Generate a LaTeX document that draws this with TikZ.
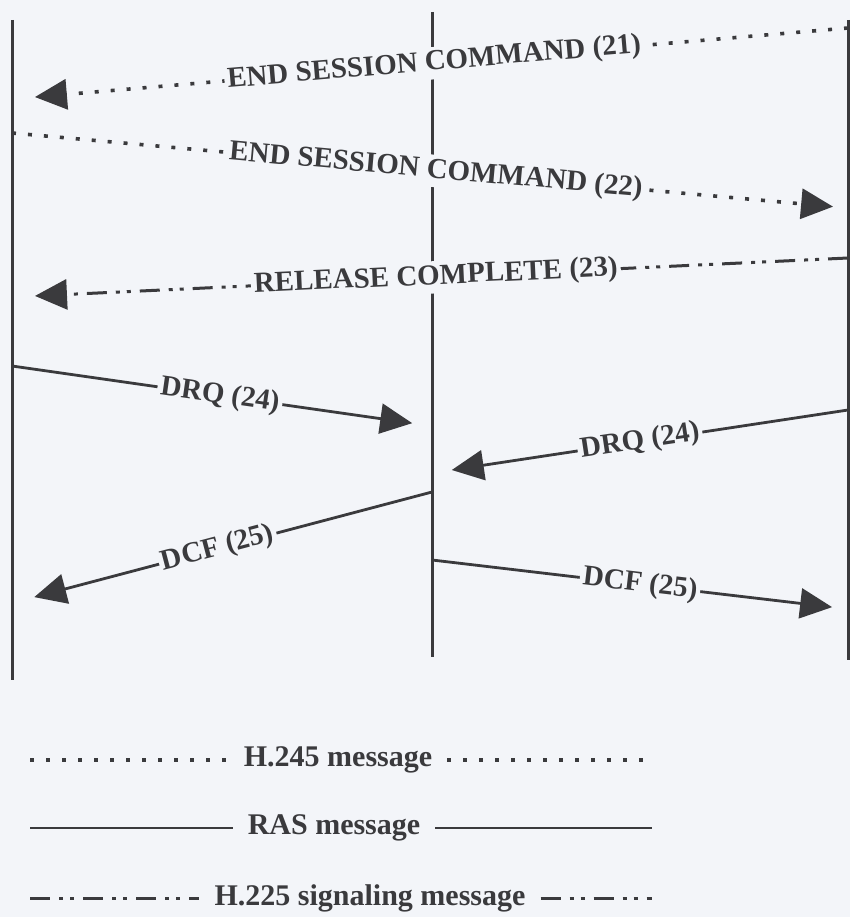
\documentclass[tikz,border=0pt]{standalone}
\usepackage{fontspec}
\setmainfont{Liberation Serif}
\usetikzlibrary{arrows.meta}
\definecolor{SeqInk}{HTML}{3A3A3D}
\definecolor{SeqPaper}{HTML}{F3F5F9}

\begin{document}
\begin{tikzpicture}[
    x=1pt,y=-1pt,
    life/.style={SeqInk,line width=3pt},
    rasline/.style={SeqInk,line width=2.8pt},
    callline/.style={SeqInk,line width=3.6pt,dash pattern=on 4pt off 12pt},
    sigline/.style={SeqInk,line width=3pt,dash pattern=on 20pt off 9pt on 4pt off 7pt on 4pt off 9pt},
    tip/.style={-{Triangle[length=32pt,width=30pt]}},
    lbl/.style={fill=SeqPaper,text=SeqInk,inner sep=3pt,sloped,font=\fontsize{29}{32}\selectfont\bfseries},
    key/.style={text=SeqInk,inner ysep=2pt,inner xsep=15pt,font=\fontsize{30}{33}\selectfont\bfseries}
  ]
    \fill[SeqPaper] (0,0) rectangle (850,917);
    \useasboundingbox (0,0) rectangle (850,917);

    % lifelines
    \coordinate (ltop) at (12,20);  \coordinate (lbot) at (12,680);
    \coordinate (mtop) at (432,12); \coordinate (mbot) at (432,657);
    \coordinate (rtop) at (848,20); \coordinate (rbot) at (848,660);
    \draw[life] (ltop) -- (lbot);
    \draw[life] (mtop) -- (mbot);
    \draw[life] (rtop) -- (rbot);

    % message ends
    \coordinate (m21a) at (848,28);  \coordinate (m21b) at (12,99);
    \coordinate (m22a) at (12,133);  \coordinate (m22b) at (848,208);
    \coordinate (m23a) at (848,258); \coordinate (m23b) at (12,297);
    \coordinate (m24a) at (12,366);  \coordinate (m24b) at (432,426);
    \coordinate (m24c) at (848,410); \coordinate (m24d) at (432,473);
    \coordinate (m25a) at (432,492); \coordinate (m25b) at (12,603);
    \coordinate (m25c) at (432,560); \coordinate (m25d) at (848,609);

    \draw[callline,tip,shorten >=23pt] (m21a) -- node[lbl,pos=0.495] (t21) {END SESSION COMMAND (21)} (m21b);
    \draw[callline,tip,shorten >=15pt] (m22a) -- node[lbl,pos=0.507] (t22) {END SESSION COMMAND (22)} (m22b);
    \draw[sigline,tip,shorten >=23pt] (m23a) -- node[lbl,pos=0.493] (t23) {RELEASE COMPLETE (23)} (m23b);
    \draw[rasline,tip,shorten >=20pt] (m24a) -- node[lbl,pos=0.495] (t24a) {DRQ (24)} (m24b);
    \draw[rasline,tip,shorten >=20pt] (m24c) -- node[lbl,pos=0.5] (t24b) {DRQ (24)} (m24d);
    \draw[rasline,tip,shorten >=23pt] (m25a) -- node[lbl,pos=0.51] (t25a) {DCF (25)} (m25b);
    \draw[rasline,tip,shorten >=16pt] (m25c) -- node[lbl,pos=0.5] (t25b) {DCF (25)} (m25d);

    % legend
    \node[key] (k245) at (338,760) {H.245 message};
    \node[key] (kras) at (334,828) {RAS message};
    \node[key] (k225) at (370,898) {H.225 signaling message};
    \coordinate (k245l) at (30,760); \coordinate (k245r) at (652,760);
    \coordinate (krasl) at (30,828); \coordinate (krasr) at (652,828);
    \coordinate (k225l) at (30,898); \coordinate (k225r) at (652,898);
    \draw[callline] (k245l) -- (k245.west);
    \draw[callline] (k245.east) -- (k245r);
    \draw[rasline] (krasl) -- (kras.west);
    \draw[rasline] (kras.east) -- (krasr);
    \draw[sigline] (k225l) -- (k225.west);
    \draw[sigline] (k225.east) -- (k225r);
\end{tikzpicture}
\end{document}
